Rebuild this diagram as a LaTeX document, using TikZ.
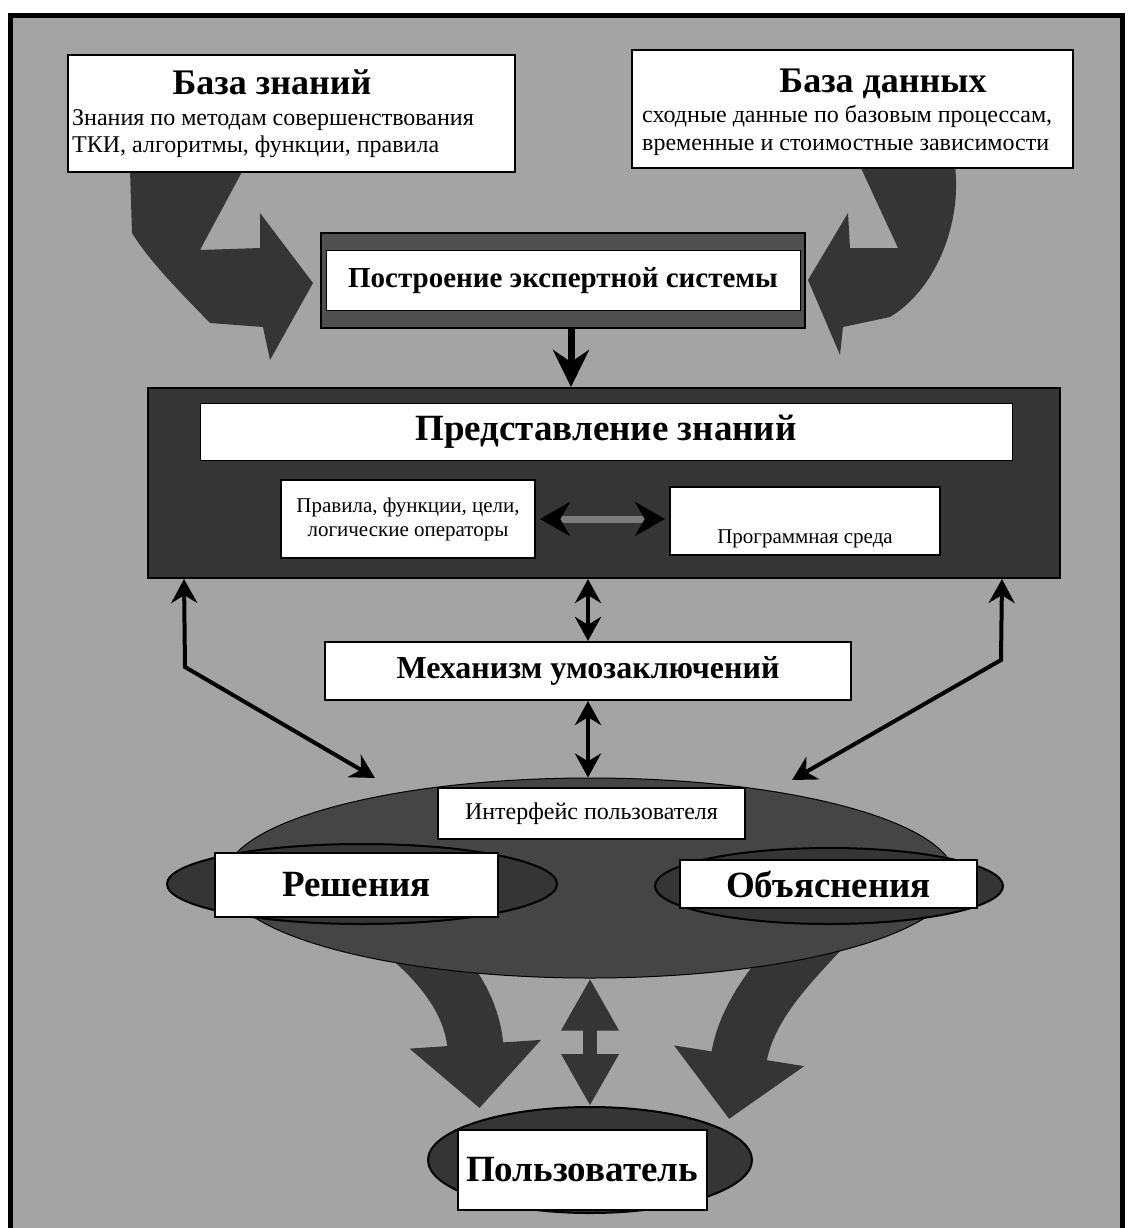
\documentclass[tikz,border=0pt]{standalone}
\usepackage{fontspec}
\setmainfont{Liberation Serif}
\usetikzlibrary{arrows.meta, positioning, shapes.geometric}
\definecolor{paperGray}{HTML}{A4A4A4}
\definecolor{inkDark}{HTML}{353535}
\definecolor{bandGray}{HTML}{505050}
\definecolor{uiGray}{HTML}{454545}
\definecolor{shaftGray}{HTML}{7C7C7C}

\begin{document}
\begin{tikzpicture}[
    x=1pt, y=-1pt,
    wbox/.style={rectangle, draw=black, line width=2pt, fill=white, inner sep=0pt, align=center},
    darkbox/.style={rectangle, draw=black, line width=2pt, inner sep=0pt},
    blob/.style={ellipse, fill=inkDark, draw=black, line width=2pt, inner sep=0pt},
    headline/.style={font=\fontsize{36}{40}\selectfont\bfseries, inner sep=0pt},
    bodyline/.style={font=\fontsize{24}{27}\selectfont, inner sep=0pt},
    smallline/.style={font=\fontsize{21}{24}\selectfont},
    link/.style={line width=4pt, draw=black, {Stealth[length=24pt,width=26pt]}-{Stealth[length=24pt,width=26pt]}},
    pair/.style={line width=7pt, draw=shaftGray, {Stealth[length=30pt,width=34pt,color=black]}-{Stealth[length=30pt,width=34pt,color=black]}},
    down/.style={line width=7pt, draw=black, -{Stealth[length=37pt,width=36pt]}},
    block/.style={line width=56pt, draw=inkDark, shorten >=12pt, -{Triangle[length=64pt,width=128pt]}},
    fatpair/.style={line width=14pt, draw=inkDark, {Triangle[length=52pt,width=54pt]}-{Triangle[length=52pt,width=54pt]}}
]
    \useasboundingbox (0,0) rectangle (1130,1228);
    % paper and frame
    \fill[white] (0,0) rectangle (1130,1228);
    \fill[paperGray] (8,14) rectangle (1124,1228);
    \draw[line width=5pt] (10,1228) -- (10,16) -- (1122,16) -- (1122,1228);

    % bent arrows into the builder
    \fill[inkDark] (130,170) -- (243,170) -- (200,250) -- (260,248) -- (260,213) -- (313,283)
        -- (270,360) -- (263,327) -- (210,323) .. controls (180,292) and (150,262) .. (132,233) -- cycle;
    \fill[inkDark] (860,166) -- (955,166) .. controls (962,225) and (935,290) .. (890,317)
        -- (843,327) -- (840,355) -- (808,280) -- (848,213) -- (850,248) -- (898,248) -- cycle;

    % sources
    \node[wbox, minimum width=447, minimum height=117] (kb) at (291.5,113.5) {};
    \node[headline, anchor=base] (kbtitle) at (272,95) {База знаний};
    \node[bodyline, anchor=base west] (kbline1) at (72,125) {Знания по методам совершенствования};
    \node[bodyline, anchor=base west] (kbline2) at ([yshift=-27pt]kbline1.base west) {ТКИ, алгоритмы, функции, правила};

    \node[wbox, minimum width=441, minimum height=118] (db) at (852.5,109) {};
    \node[headline, anchor=base] (dbtitle) at (883,93) {База данных};
    \node[bodyline, anchor=base west] (dbline1) at (642,123) {сходные данные по базовым процессам,};
    \node[bodyline, anchor=base west] (dbline2) at ([yshift=-27pt]dbline1.base west) {временные и стоимостные зависимости};

    % builder
    \node[darkbox, fill=bandGray, minimum width=484, minimum height=95] (build) at (563,280.5) {};
    \node[wbox, line width=1pt, minimum width=474, minimum height=60,
          font=\fontsize{29}{32}\selectfont\bfseries] (buildtext) at (build) {Построение экспертной системы};

    % knowledge representation
    \node[darkbox, fill=inkDark, minimum width=912, minimum height=190] (kr) at (604,483) {};
    \node[wbox, line width=1pt, minimum width=812, minimum height=57,
          font=\fontsize{37}{40}\selectfont\bfseries] (krtitle) at (606,431.5) {Представление знаний};
    \node[wbox, minimum width=254, minimum height=78, smallline] (rules) at (408,519)
        {Правила, функции, цели,\\логические операторы};
    \node[wbox, minimum width=270, minimum height=68] (env) at (805,521) {};
    \node[smallline, inner sep=0pt, above=8pt of env.south] (envtext) {Программная среда};

    \draw[down] ([xshift=8pt]build.south) -- ([xshift=8pt]build.south |- kr.north);
    \draw[pair] ([xshift=4pt]rules.east) -- ([xshift=-4pt]rules.east -| env.west);

    % inference
    \node[wbox, minimum width=526, minimum height=58,
          font=\fontsize{32}{36}\selectfont\bfseries] (mech) at (588,671) {Механизм умозаключений};

    % user
    \node[ellipse, fill=inkDark, draw=black, line width=2pt, minimum width=324, minimum height=106] (user) at (590,1160) {};
    \node[wbox, minimum width=249, minimum height=80,
          font=\fontsize{37}{40}\selectfont\bfseries] (usertext) at (582,1170) {Пользователь};

    % output arrows
    \coordinate (lstart) at (380,915);
    \coordinate (rstart) at (835,915);
    \draw[block] (lstart) .. controls (430,950) and (472,995) .. (user.160);
    \draw[block] (rstart) .. controls (800,955) and (748,1000) .. (user.12);

    % user interface
    \node[ellipse, fill=uiGray, draw=black, line width=1pt, minimum width=730, minimum height=200] (ui) at (590,878) {};
    \node[blob, minimum width=390, minimum height=80] (decblob) at (362,884) {};
    \node[blob, minimum width=348, minimum height=76] (explblob) at (829,886) {};
    \node[wbox, minimum width=307, minimum height=51,
          font=\fontsize{24}{27}\selectfont] (uitext) at (591.5,813.5) {Интерфейс пользователя};
    \node[wbox, minimum width=283, minimum height=64,
          font=\fontsize{37}{40}\selectfont\bfseries] (dec) at (356.5,885) {Решения};
    \node[wbox, minimum width=297, minimum height=48,
          font=\fontsize{37}{40}\selectfont\bfseries] (expl) at (828.5,884) {Объяснения};

    % links
    \coordinate (lbend) at (185,667);
    \coordinate (lend) at (375,778);
    \coordinate (rbend) at (1001,660);
    \coordinate (rend) at (792,780);
    \draw[link] (kr.south -| mech.north) -- (mech.north);
    \draw[link] (mech.south) -- (mech.south |- ui.north);
    \draw[link] ([xshift=37pt]kr.south west) -- (lbend) -- (lend);
    \draw[link] ([xshift=-59pt]kr.south east) -- (rbend) -- (rend);
    \draw[fatpair] (ui.south) -- (user.north);
\end{tikzpicture}
\end{document}
